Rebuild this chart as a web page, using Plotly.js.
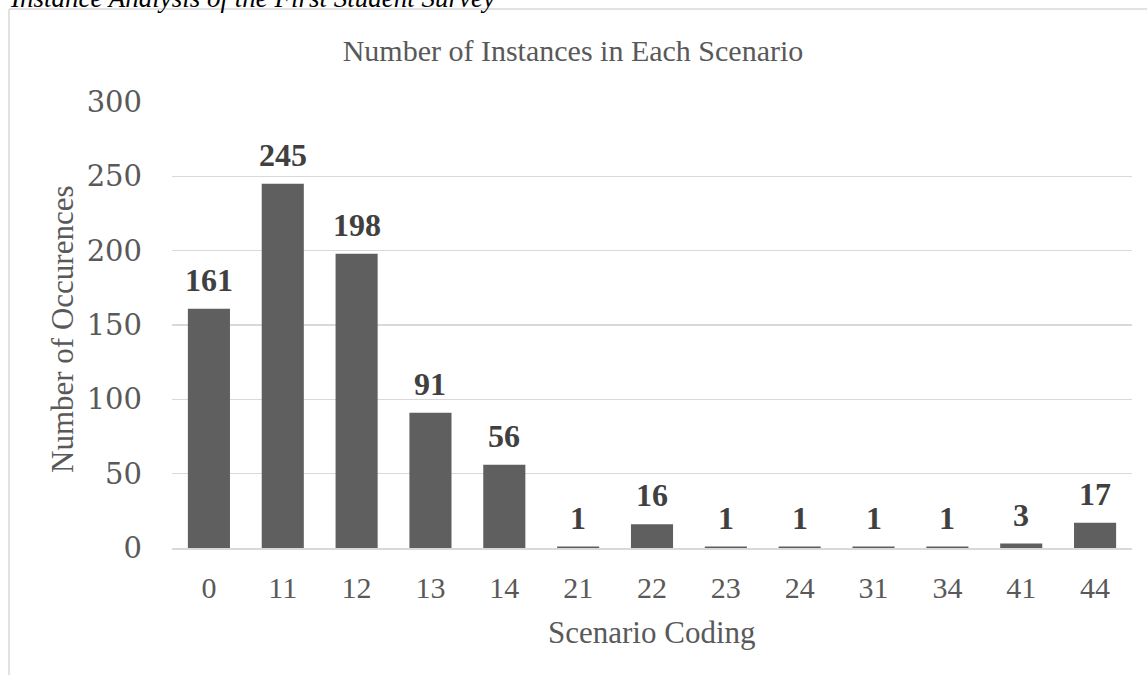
<!DOCTYPE html>
<html>
<head>
<meta charset="utf-8">
<script src="https://cdn.plot.ly/plotly-3.0.1.min.js"></script>
<style>html,body{margin:0;padding:0;background:#fff;}#chart{width:1147px;height:675px;}</style>
</head>
<body>
<div id="chart"></div>
<script>
const categories = ["0","11","12","13","14","21","22","23","24","31","34","41","44"];
const occurrences = [161,245,198,91,56,1,16,1,1,1,1,3,17];
const yTicks = [0,50,100,150,200,250,300];

const W = 1147, H = 675;
const L = 172, R = 15, T = 102, B = 127;
const plotW = W - L - R, plotH = H - T - B;
const px = x => (x - L) / plotW;
const py = y => (H - B - y) / plotH;

const serif = "Liberation Serif, Times New Roman, serif";

const labelAnns = categories.map((c, i) => ({
  x: i, y: occurrences[i], xref: "x", yref: "y",
  text: "<b>" + occurrences[i] + "</b>",
  showarrow: false, yanchor: "bottom", yshift: 9,
  font: {family: serif, size: 32, color: "#404040"}
}));

const data = [{
  type: "bar",
  x: categories,
  y: occurrences,
  marker: {color: "#5f5f5f"},
  hoverinfo: "x+y"
}];

const layout = {
  width: W, height: H,
  margin: {l: L, r: R, t: T, b: B, pad: 0},
  paper_bgcolor: "#ffffff",
  plot_bgcolor: "#ffffff",
  bargap: 0.43,
  showlegend: false,
  title: {
    text: "Number of Instances in Each Scenario",
    font: {family: serif, size: 30, color: "#595959"},
    x: 573 / W, xanchor: "center", xref: "container",
    y: 1 - 50 / H, yanchor: "middle", yref: "container"
  },
  xaxis: {
    type: "category",
    range: [-0.5, categories.length - 0.5],
    tickmode: "array", tickvals: categories, ticktext: categories,
    tickfont: {family: serif, size: 30, color: "#595959"},
    ticks: "", showline: true, linecolor: "#d9d9d9", linewidth: 1.5,
    showgrid: false, zeroline: false,
    ticklabelstandoff: 12
  },
  yaxis: {
    range: [0, 300],
    tickvals: yTicks,
    ticktext: yTicks.map(String),
    tickfont: {family: "DejaVu Serif, serif", size: 29, color: "#595959"},
    ticks: "", showline: false,
    showgrid: true, gridcolor: "#d9d9d9", gridwidth: 1.5,
    zeroline: false,
    ticklabelstandoff: 29
  },
  shapes: [
    {type: "line", xref: "paper", yref: "paper", x0: px(9), x1: px(9), y0: py(9), y1: py(700),
     line: {color: "#d9d9d9", width: 1.5}},
    {type: "line", xref: "paper", yref: "paper", x0: px(9), x1: px(1160), y0: py(9), y1: py(9),
     line: {color: "#d9d9d9", width: 1.5}}
  ],
  annotations: labelAnns.concat([
    {x: px(62), y: py(330), xref: "paper", yref: "paper", text: "Number of Occurences",
     textangle: -90, showarrow: false, xanchor: "center", yanchor: "middle",
     font: {family: serif, size: 31, color: "#595959"}},
    {x: px(652), y: py(632), xref: "paper", yref: "paper", text: "Scenario Coding",
     showarrow: false, xanchor: "center", yanchor: "middle",
     font: {family: serif, size: 31, color: "#595959"}},
    {x: px(8), y: py(7), xref: "paper", yref: "paper",
     text: "<i>Instance Analysis of the First Student Survey</i>",
     showarrow: false, xanchor: "left", yanchor: "bottom", yshift: -8,
     font: {family: serif, size: 27, color: "#000000"}}
  ])
};

Plotly.newPlot("chart", data, layout, {displayModeBar: false, staticPlot: true});
</script>
</body>
</html>
